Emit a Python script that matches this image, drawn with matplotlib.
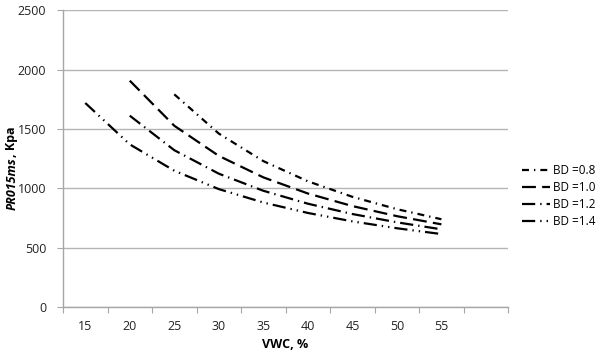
import matplotlib.pyplot as plt
import numpy as np

plt.rcParams['font.family'] = ['Open Sans', 'DejaVu Sans']
plt.rcParams['lines.scale_dashes'] = False

# values
vwc = [15, 20, 25, 30, 35, 40, 45, 50, 55]
bd_08 = [None, None, 1793, 1462, 1230, 1060, 929, 825, 740]
bd_10 = [None, 1908, 1528, 1274, 1093, 957, 851, 766, 697]
bd_12 = [None, 1613, 1322, 1124, 980, 871, 784, 714, 655]
bd_14 = [1720, 1371, 1149, 994, 881, 793, 722, 664, 615]
labels = ['BD =0.8', 'BD =1.0', 'BD =1.2', 'BD =1.4']

styles = [(0, (5, 3.6, 1, 3.6)),
          (0, (10, 4.5)),
          (0, (9.5, 3.6, 1, 3.6)),
          (0, (9.5, 3.6, 1, 3.6, 1, 3.6))]

fig = plt.figure(figsize=(6, 3.56), dpi=100)
ax = fig.add_axes([0.105, 0.1376, 0.742, 0.833])

for vals, lab, ls in zip([bd_08, bd_10, bd_12, bd_14], labels, styles):
    y = np.array([np.nan if v is None else v for v in vals], dtype=float)
    ax.plot(vwc, y, color='black', lw=1.6, linestyle=ls, label=lab)

ax.set_xlim(12.5, 62.5)
ax.set_ylim(0, 2500)
ax.set_yticks(range(0, 2501, 500))
ax.set_xticks(np.arange(12.5, 63, 5))
ax.set_xticklabels([])
ax.set_xticks(vwc, minor=True)
ax.set_xticklabels([str(v) for v in vwc], minor=True)
ax.tick_params(axis='x', which='minor', length=0, pad=9, labelsize=9, labelcolor='#222222')
ax.tick_params(axis='x', which='major', length=4, color='#a6a6a6')
ax.tick_params(axis='y', length=4, color='#a6a6a6', labelsize=9, labelcolor='#222222', pad=8)

ax.grid(axis='y', color='#b4b4b4', lw=1)
ax.set_axisbelow(True)
for s in ['top', 'right']:
    ax.spines[s].set_visible(False)
for s in ['left', 'bottom']:
    ax.spines[s].set_color('#a6a6a6')
    ax.spines[s].set_linewidth(1)

ax.set_xlabel('VWC, %', fontsize=9, fontweight='bold', labelpad=4)

t1 = fig.text(0.02, 0.41, 'PR015ms', rotation=90, fontsize=9, fontweight='bold',
              fontstyle='italic', ha='center', va='bottom')
ax.annotate(', Kpa', xy=(0.5, 1), xycoords=t1, rotation=90, fontsize=9,
            fontweight='bold', ha='center', va='bottom')

ax.legend(loc='center left', bbox_to_anchor=(1.031, 0.374), frameon=False,
          fontsize=8.5, handlelength=2.37, handletextpad=0.25, labelspacing=0.35,
          borderpad=0, borderaxespad=0)

fig.savefig('out.png', dpi=100)
